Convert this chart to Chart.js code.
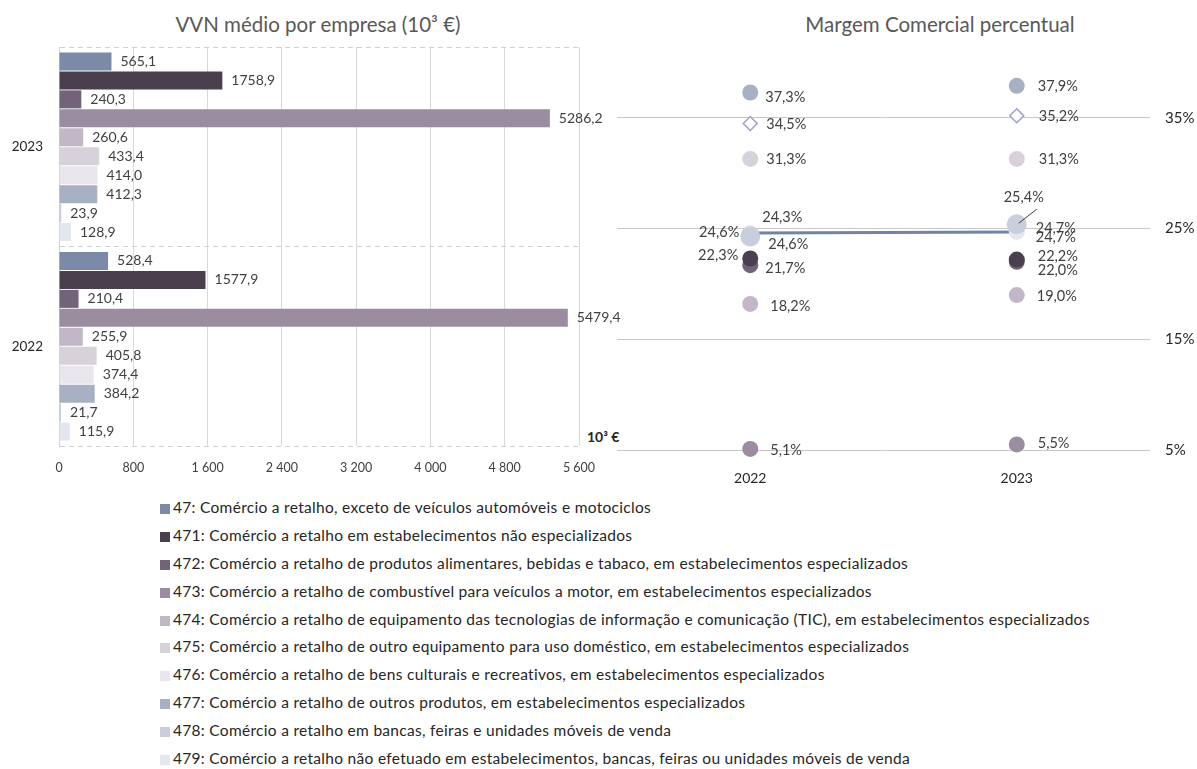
<!DOCTYPE html>
<html>
<head>
<meta charset="utf-8">
<script src="https://cdn.jsdelivr.net/npm/chart.js@4"></script>
<style>
  body{margin:0;background:#fff;font-family:Lato,"Open Sans",sans-serif;}
  #wrap{position:relative;width:1197px;height:769px;overflow:hidden;}
  .ttl{position:absolute;top:12px;font-size:20.5px;color:#595959;white-space:nowrap;transform:translateX(-50%);}
  #unit{position:absolute;left:587px;top:428px;font-size:14px;font-weight:bold;color:#262626;}
  #legend{position:absolute;left:160px;top:494px;font-size:15.5px;letter-spacing:0.3px;color:#262626;}
  #legend div{height:27.9px;line-height:27.9px;white-space:nowrap;}
  #legend span{display:inline-block;width:10px;height:10px;margin-right:3px;vertical-align:-1px;}
  canvas{position:absolute;top:0;}
</style>
</head>
<body>
<div id="wrap">
  <div class="ttl" style="left:318px">VVN médio por empresa (10³ €)</div>
  <div class="ttl" style="left:940px">Margem Comercial percentual</div>
  <div id="unit">10³ €</div>
  <canvas id="vvnChart" width="640" height="485" style="left:0"></canvas>
  <canvas id="marginChart" width="597" height="485" style="left:600px"></canvas>
  <div id="legend"></div>
</div>
<script>
// dados
const codes=["47","471","472","473","474","475","476","477","478","479"];
const legendLabels=[
 "47: Comércio a retalho, exceto de veículos automóveis e motociclos",
 "471: Comércio a retalho em estabelecimentos não especializados",
 "472: Comércio a retalho de produtos alimentares, bebidas e tabaco, em estabelecimentos especializados",
 "473: Comércio a retalho de combustível para veículos a motor, em estabelecimentos especializados",
 "474: Comércio a retalho de equipamento das tecnologias de informação e comunicação (TIC), em estabelecimentos especializados",
 "475: Comércio a retalho de outro equipamento para uso doméstico, em estabelecimentos especializados",
 "476: Comércio a retalho de bens culturais e recreativos, em estabelecimentos especializados",
 "477: Comércio a retalho de outros produtos, em estabelecimentos especializados",
 "478: Comércio a retalho em bancas, feiras e unidades móveis de venda",
 "479: Comércio a retalho não efetuado em estabelecimentos, bancas, feiras ou unidades móveis de venda"
];
const vvnYears=["2023","2022"];
const vvn2023=[565.1,1758.9,240.3,5286.2,260.6,433.4,414.0,412.3,23.9,128.9];
const vvn2022=[528.4,1577.9,210.4,5479.4,255.9,405.8,374.4,384.2,21.7,115.9];
const vvnTicks=[0,800,1600,2400,3200,4000,4800,5600];

const marginYears=["2022","2023"];
const margin2022=[24.6,22.3,21.7,5.1,18.2,31.3,34.5,37.3,24.3,24.6];
const margin2023=[24.7,22.2,22.0,5.5,19.0,31.3,35.2,37.9,25.4,24.7];
const marginTicks=[5,15,25,35];

const colors=["#7b8aa6","#4a3f4c","#736379","#9a8d9f","#c1b7c6","#d7d2da","#e8e6eb","#a7b1c3","#c8cedb","#e3e7ef"];

// posição das etiquetas (dx, dy, alinhamento) para 2022 e 2023
const marginLabelPos=[
 [[18,11,"left"],[19,5,"left"]],
 [[-12,-3,"right"],[21,-3,"left"]],
 [[15,3,"left"],[21,8,"left"]],
 [[20,1,"left"],[21,-1,"left"]],
 [[20,2,"left"],[20,1,"left"]],
 [[16,0,"left"],[22,0,"left"]],
 [[16,1,"left"],[22,1,"left"]],
 [[15,5,"left"],[21,0,"left"]],
 [[12,-19,"left"],[7,-27,"center"]],
 [[-11,-1,"right"],[19,-4,"left"]]
];

function fmt(v){return v.toFixed(1).replace(".",",");}
function fmtThousands(v){return String(v).replace(/\B(?=(\d{3})+(?!\d))/g," ");}

// legenda
const legend=document.getElementById("legend");
legendLabels.forEach((txt,i)=>{
  const row=document.createElement("div");
  row.innerHTML=`<span style="background:${colors[i]}"></span>${txt}`;
  legend.appendChild(row);
});

const barLabels={
  id:"barLabels",
  afterDatasetsDraw(chart){
    const ctx=chart.ctx;
    ctx.save();
    ctx.font="14px Lato, sans-serif";
    ctx.fillStyle="#404040";
    ctx.textBaseline="middle";
    ctx.textAlign="left";
    chart.data.datasets.forEach((ds,i)=>{
      chart.getDatasetMeta(i).data.forEach((el,j)=>{
        ctx.fillText(fmt(ds.data[j]),el.x+9,el.y);
      });
    });
    ctx.restore();
  }
};

new Chart(document.getElementById("vvnChart"),{
  type:"bar",
  data:{
    labels:vvnYears,
    datasets:codes.map((c,i)=>({
      label:legendLabels[i],
      data:[vvn2023[i],vvn2022[i]],
      backgroundColor:colors[i],
      categoryPercentage:0.95,
      barPercentage:0.95
    }))
  },
  options:{
    indexAxis:"y",
    responsive:false,
    animation:false,
    layout:{padding:{top:47,right:61,bottom:0,left:0}},
    plugins:{legend:{display:false},tooltip:{enabled:false}},
    scales:{
      x:{
        min:0,max:5600,
        afterBuildTicks(s){s.ticks=vvnTicks.map(v=>({value:v}));},
        afterFit(s){s.height=39;},
        ticks:{color:"#404040",font:{size:12.5,family:"Lato"},padding:14,callback:v=>fmtThousands(v)},
        grid:{drawTicks:false,color:ctx=>ctx.tick&&ctx.tick.value===0?"rgba(0,0,0,0)":"#d9d9d9"},
        border:{display:false}
      },
      y:{
        afterFit(s){s.width=59;},
        ticks:{color:"#262626",font:{size:13.5,family:"Lato"},padding:16},
        grid:{drawTicks:false,offset:true,color:"#d0d0d0"},
        border:{display:true,dash:[5,4],color:"#d0d0d0"}
      }
    }
  },
  plugins:[barLabels]
});

const pointLabels={
  id:"pointLabels",
  afterDatasetsDraw(chart){
    const ctx=chart.ctx;
    ctx.save();
    ctx.font="14.5px Lato, sans-serif";
    ctx.fillStyle="#404040";
    ctx.textBaseline="middle";
    chart.data.datasets.forEach((ds,i)=>{
      chart.getDatasetMeta(i).data.forEach((el,j)=>{
        const p=marginLabelPos[i][j];
        ctx.textAlign=p[2];
        ctx.fillText(fmt(ds.data[j])+"%",el.x+p[0],el.y+p[1]);
        if(p[2]==="center"){
          ctx.strokeStyle="#404040";ctx.lineWidth=1;
          ctx.beginPath();ctx.moveTo(el.x+20,el.y-15);ctx.lineTo(el.x+2,el.y-1);ctx.stroke();
        }
      });
    });
    ctx.restore();
  }
};

new Chart(document.getElementById("marginChart"),{
  type:"line",
  data:{
    labels:marginYears,
    datasets:codes.map((c,i)=>{
      const ds={
        label:legendLabels[i],
        data:[margin2022[i],margin2023[i]],
        showLine:false,
        pointRadius:8,
        pointBackgroundColor:colors[i],
        pointBorderColor:colors[i],
        pointBorderWidth:0,
        clip:false,
        order:0
      };
      if(c==="47"){
        ds.showLine=true;ds.borderColor="#6f84a6";ds.borderWidth=3;
        ds.pointRadius=6;ds.pointBackgroundColor="#6f84a6";
        ds.order=1; // fica por baixo
      }
      if(c==="476"){
        ds.pointStyle="rectRot";ds.pointRadius=7;
        ds.pointBackgroundColor="#ffffff";ds.pointBorderColor="#9c9fc6";ds.pointBorderWidth=1.5;
      }
      if(c==="478"){ds.pointRadius=10;}
      return ds;
    })
  },
  options:{
    responsive:false,
    animation:false,
    layout:{padding:{top:62.6,right:0,bottom:0,left:17}},
    plugins:{legend:{display:false},tooltip:{enabled:false}},
    scales:{
      x:{
        offset:true,
        afterFit(s){s.height=35;},
        ticks:{color:"#262626",font:{size:14,family:"Lato"},padding:12},
        grid:{display:false},
        border:{display:false}
      },
      y:{
        position:"right",
        min:5,max:40,
        afterBuildTicks(s){s.ticks=marginTicks.map(v=>({value:v}));},
        afterFit(s){s.width=47;},
        ticks:{color:"#262626",font:{size:15,family:"Lato"},padding:15,callback:v=>v+"%"},
        grid:{drawTicks:false,color:"#c8c8c8"},
        border:{display:false}
      }
    }
  },
  plugins:[pointLabels]
});
</script>
</body>
</html>
